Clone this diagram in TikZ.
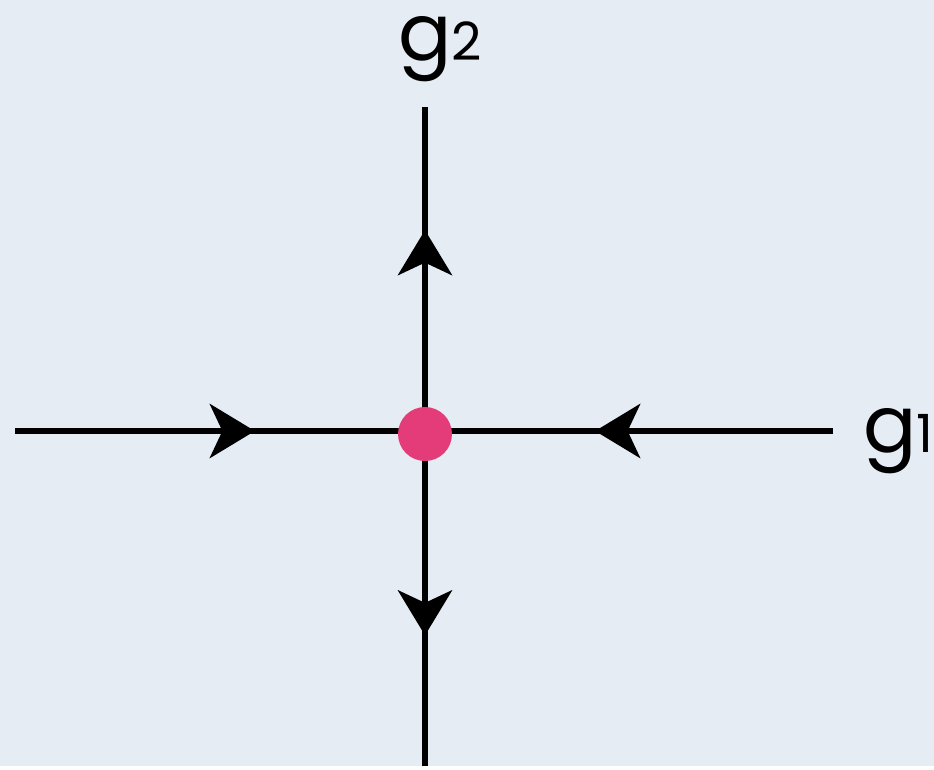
\documentclass[tikz,border=0pt]{standalone}
\usepackage{fontspec}
\setmainfont{Poppins}
\usetikzlibrary{arrows.meta,decorations.markings}
\definecolor{PaperBlue}{RGB}{229,236,243}
\definecolor{FixPink}{RGB}{228,60,120}

\tikzset{
  axis/.style={line width=0.13cm, black},
  flow/.style={axis, postaction={decorate},
    decoration={markings, mark=at position #1 with {\arrow{Stealth[length=0.9cm, width=1.08cm, inset=0.25cm]}}}},
  axlabel/.style={anchor=base west, inner sep=0pt, font=\fontsize{45}{45}\selectfont}
}

\begin{document}
\begin{tikzpicture}[x=0.02cm, y=-0.02cm]
          \fill[PaperBlue] (0,0) rectangle (934,766);
          \coordinate (west) at (15,431);
          \coordinate (east) at (833,431);
          \coordinate (north) at (425,107);
          \coordinate (south) at (425,766);
          \coordinate (mid) at (425,431);
          % stable direction g1, unstable g2
          \draw[flow=0.585] (west) -- (mid);
          \draw[flow=0.583] (east) -- (mid);
          \draw[flow=0.62] (mid) -- (north);
          \draw[flow=0.61] (mid) -- (south);
          \node[circle, fill=FixPink, minimum size=1.08cm, inner sep=0pt] (fp) at (425,434) {};
          \node[axlabel] (g2) at (398,60) {g{\fontsize{30}{30}\selectfont 2}};
          \node[axlabel] (g1) at (863,452) {g{\fontsize{30}{30}\selectfont 1}};
        \end{tikzpicture}
\end{document}
